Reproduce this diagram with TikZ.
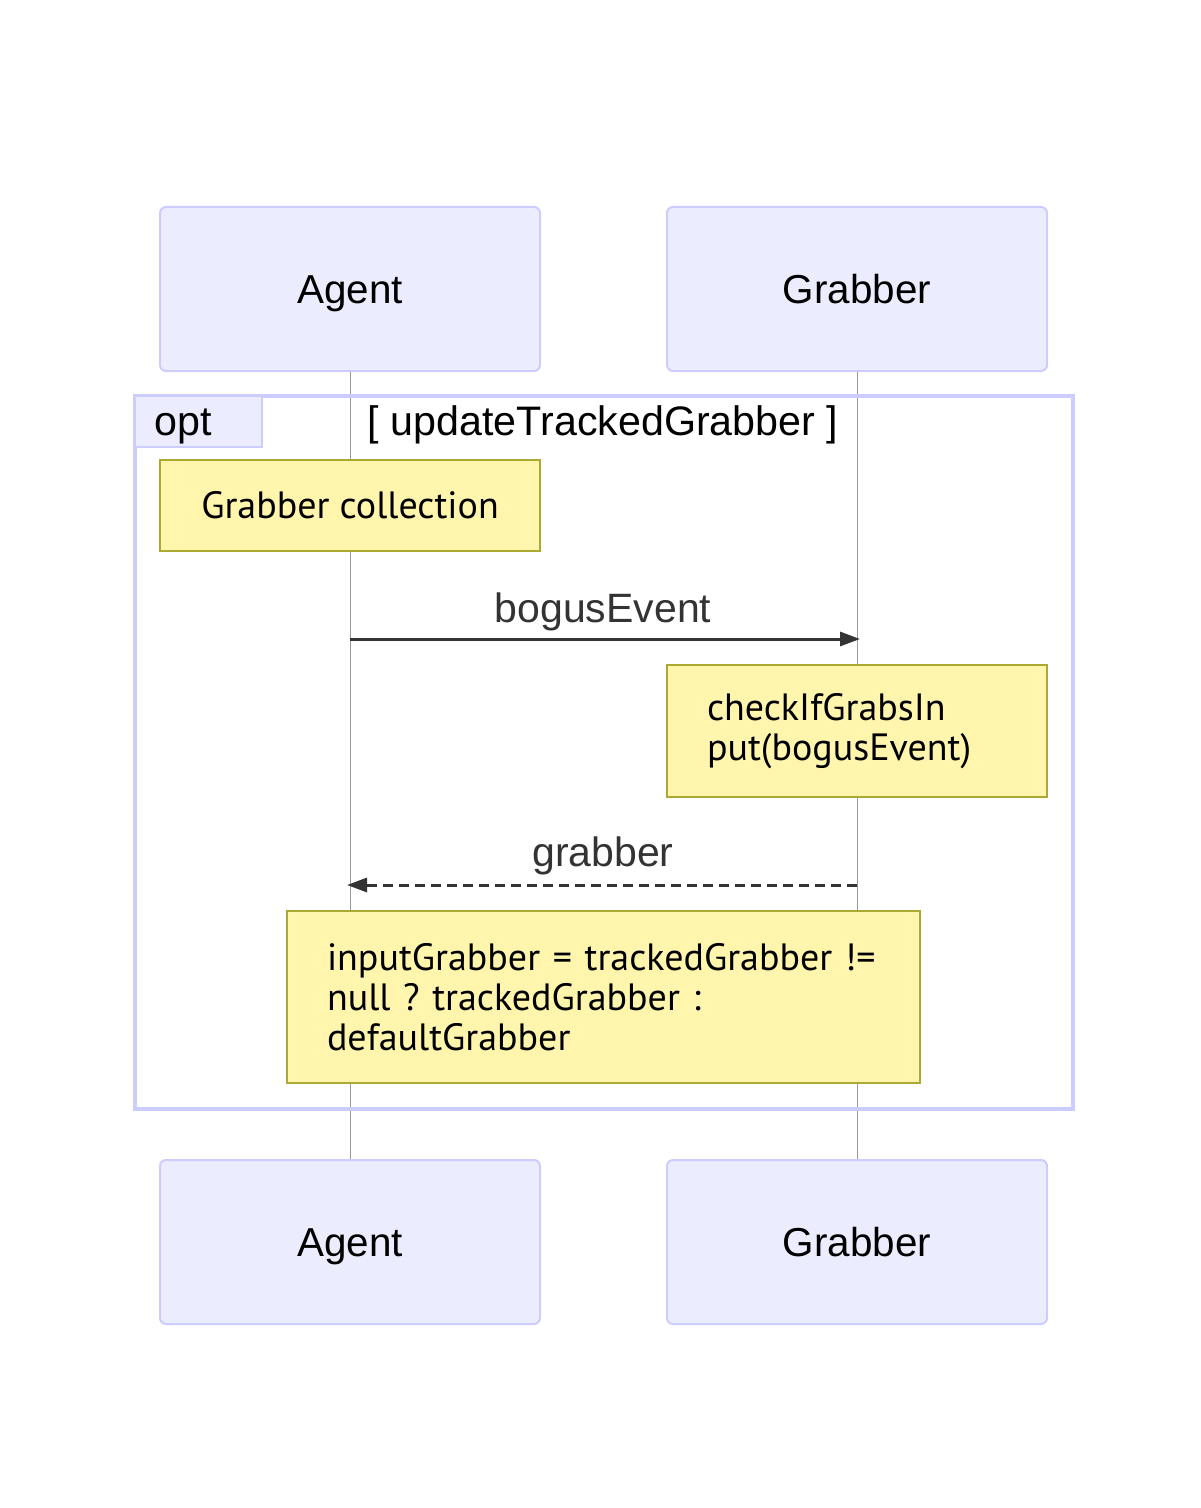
\documentclass[tikz,border=0pt]{standalone}
\usepackage{fontspec}
\setmainfont{Liberation Sans}
\newfontfamily\notefont{PT Sans}
\usetikzlibrary{arrows.meta}
\frenchspacing
\definecolor{actorfill}{HTML}{ECECFF}
\definecolor{actorline}{HTML}{CCCCFF}
\definecolor{notefill}{HTML}{FFF5AD}
\definecolor{noteline}{HTML}{AAAA33}
\definecolor{msgline}{HTML}{333333}
\tikzset{
  actor/.style={draw=actorline, fill=actorfill, line width=1pt, rounded corners=3pt,
    minimum width=190pt, minimum height=82pt, inner sep=0pt,
    font=\fontsize{20.2}{24}\selectfont, text height=14.3pt, text depth=0pt},
  note/.style={draw=noteline, fill=notefill, line width=1pt, inner xsep=20pt, inner ysep=0pt,
    align=left, font=\notefont\fontsize{19}{20}\selectfont},
  lifeline/.style={draw=gray!80, line width=0.5pt},
  optframe/.style={draw=actorline, line width=1.75pt},
  optlabel/.style={inner sep=0pt, font=\fontsize{20.6}{24}\selectfont},
  msg/.style={draw=msgline, line width=1.5pt, -{Triangle[length=10pt,width=7pt]}},
  msglabel/.style={text=msgline, inner sep=0pt, anchor=base, font=\fontsize{20.5}{24}\selectfont}
}
\begin{document}
\begin{tikzpicture}[x=0.5pt,y=-0.5pt]
\useasboundingbox (0,0) rectangle (1200,1508);
% participants
\node[actor] (agenttop) at (350,289) {Agent};
\node[actor] (grabbertop) at (857,289) {Grabber};
\node[actor] (agentbot) at (350,1242) {Agent};
\node[actor] (grabberbot) at (857,1242) {Grabber};
\draw[lifeline] (agenttop) -- (agentbot);
\draw[lifeline] (grabbertop) -- (grabberbot);
% opt block
\draw[optframe] (135,396) rectangle (1073,1109);
\draw[draw=actorline, fill=actorfill, line width=1pt] (135,396) rectangle (262,447);
\node[optlabel, anchor=base west] (optname) at (154,435) {opt};
\node[optlabel, anchor=base] (optcond) at (603,435) {[ updateTrackedGrabber ]};
% notes
\node[note, minimum width=190pt, minimum height=45.5pt, align=center] (note1) at (350,505.5) {Grabber collection};
\node[note, text width=150pt, minimum height=66pt] (note2) at (857,731) {checkIfGrabsIn\\put(bogusEvent)};
\node[note, text width=276.5pt, minimum height=86pt] (note3) at (603.5,997)
  {inputGrabber = trackedGrabber !=\\null ? trackedGrabber :\\defaultGrabber};
% messages
\coordinate (m1a) at (350,639);
\coordinate (m1b) at (860,639);
\coordinate (m2a) at (857,885);
\coordinate (m2b) at (347,885);
\draw[msg] (m1a) -- (m1b);
\node[msglabel] (m1label) at (603,622) {bogusEvent};
\draw[msg, dash pattern=on 5pt off 3pt] (m2a) -- (m2b);
\node[msglabel] (m2label) at (603,866) {grabber};
\end{tikzpicture}
\end{document}
